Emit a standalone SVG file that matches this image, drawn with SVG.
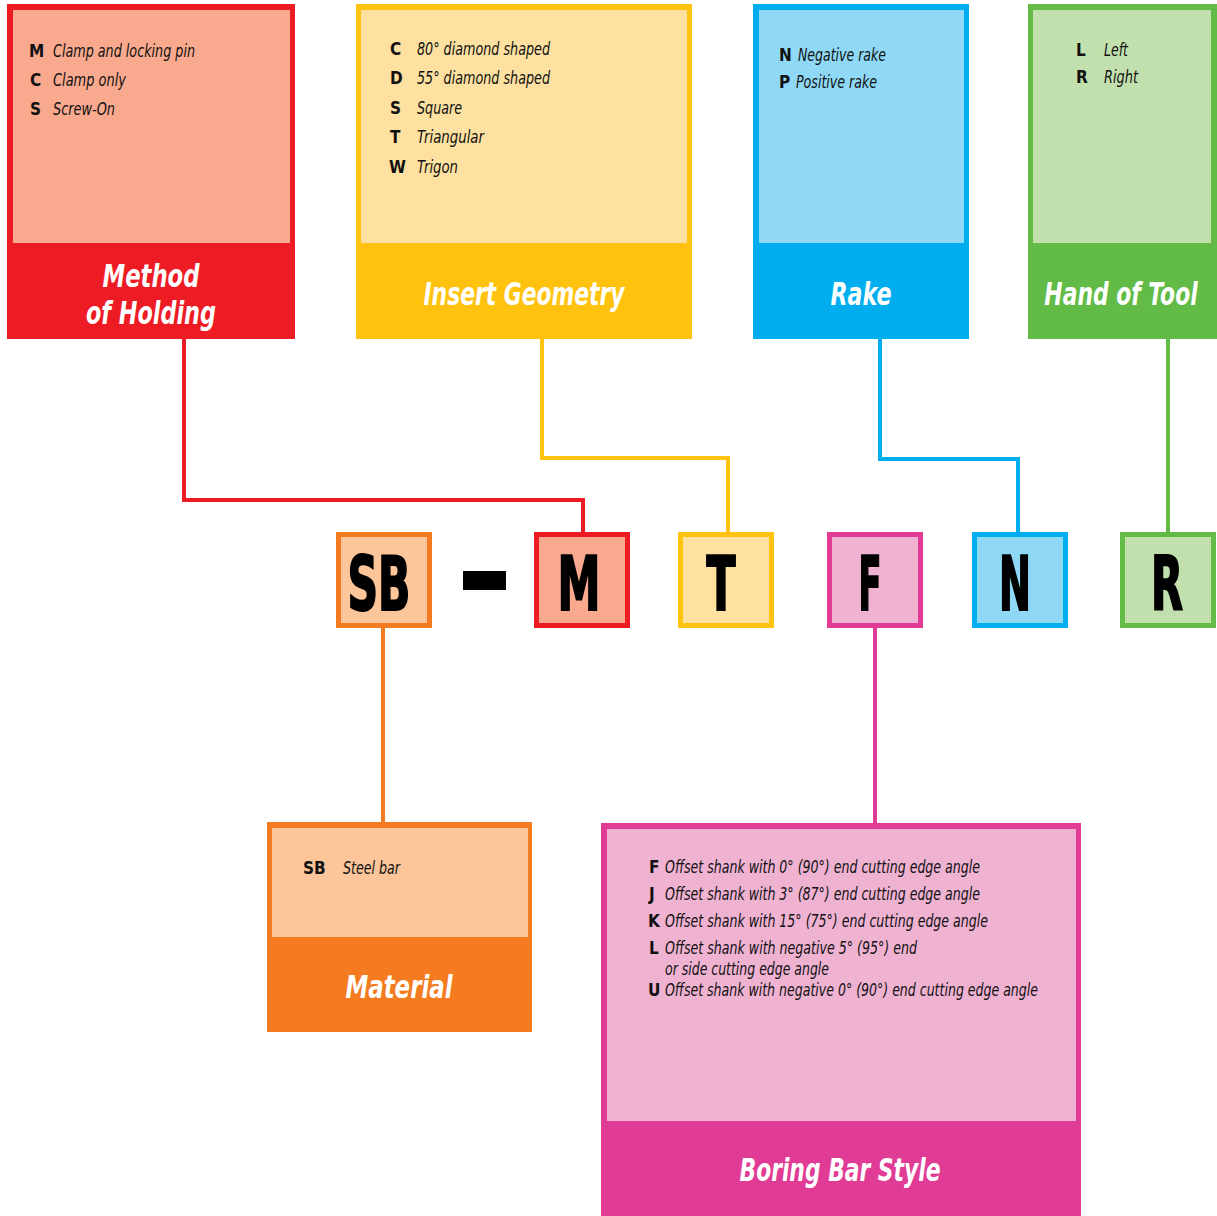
<svg xmlns="http://www.w3.org/2000/svg" width="1217" height="1216" viewBox="0 0 1217 1216">
<style>
text{font-family:"Liberation Sans Narrow","DejaVu Sans Condensed","Liberation Sans",sans-serif;fill:#111}
.k{font-weight:bold;font-size:17px}
.d{font-style:italic;font-size:18px}
.t{font-weight:bold;font-style:italic;font-size:32px;fill:#fff;text-anchor:middle}
.big{font-weight:bold;font-size:74px;text-anchor:middle;fill:#000;stroke:#000;stroke-width:2}
.c{fill:none;stroke-width:4}
</style>
<rect width="1217" height="1216" fill="#fff"/>
<g id="connectors">
<polyline class="c" stroke="#ED1C24" points="184,339 184,500 583,500 583,532"/>
<polyline class="c" stroke="#FFC20E" points="542,339 542,458 728,458 728,532"/>
<polyline class="c" stroke="#00AEEF" points="880,339 880,459 1018,459 1018,532"/>
<polyline class="c" stroke="#62BB46" points="1168,339 1168,532"/>
<polyline class="c" stroke="#F47B20" points="383,628 383,823"/>
<polyline class="c" stroke="#E03C95" points="875,628 875,823"/>
</g>
<g id="method-of-holding">
<rect x="7" y="4" width="288" height="335" fill="#ED1C24"/>
<rect x="13" y="10" width="277" height="233" fill="#F9A98E"/>
<text class="k" x="29" y="57">M</text><text class="d" x="53" y="57" textLength="142" lengthAdjust="spacingAndGlyphs">Clamp and locking pin</text>
<text class="k" x="30" y="86">C</text><text class="d" x="53" y="86" textLength="73" lengthAdjust="spacingAndGlyphs">Clamp only</text>
<text class="k" x="30" y="115">S</text><text class="d" x="53" y="115" textLength="62" lengthAdjust="spacingAndGlyphs">Screw-On</text>
<text class="t" x="151" y="287" textLength="97" lengthAdjust="spacingAndGlyphs">Method</text>
<text class="t" x="151" y="324" textLength="130" lengthAdjust="spacingAndGlyphs">of Holding</text>
</g>
<g id="insert-geometry">
<rect x="356" y="4" width="336" height="335" fill="#FFC20E"/>
<rect x="361" y="10" width="326" height="233" fill="#FEE1A0"/>
<text class="k" x="390" y="55">C</text><text class="d" x="417" y="55" textLength="133" lengthAdjust="spacingAndGlyphs">80° diamond shaped</text>
<text class="k" x="390" y="84">D</text><text class="d" x="417" y="84" textLength="133" lengthAdjust="spacingAndGlyphs">55° diamond shaped</text>
<text class="k" x="390" y="114">S</text><text class="d" x="417" y="114" textLength="45" lengthAdjust="spacingAndGlyphs">Square</text>
<text class="k" x="390" y="143">T</text><text class="d" x="417" y="143" textLength="67" lengthAdjust="spacingAndGlyphs">Triangular</text>
<text class="k" x="389" y="173">W</text><text class="d" x="417" y="173" textLength="41" lengthAdjust="spacingAndGlyphs">Trigon</text>
<text class="t" x="524" y="305" textLength="201" lengthAdjust="spacingAndGlyphs">Insert Geometry</text>
</g>
<g id="rake">
<rect x="753" y="4" width="216" height="335" fill="#00AEEF"/>
<rect x="759" y="10" width="205" height="233" fill="#8FD9F6"/>
<text class="k" x="779" y="61">N</text><text class="d" x="798" y="61" textLength="88" lengthAdjust="spacingAndGlyphs">Negative rake</text>
<text class="k" x="779" y="88">P</text><text class="d" x="796" y="88" textLength="81" lengthAdjust="spacingAndGlyphs">Positive rake</text>
<text class="t" x="861" y="305" textLength="61" lengthAdjust="spacingAndGlyphs">Rake</text>
</g>
<g id="hand-of-tool">
<rect x="1028" y="4" width="189" height="335" fill="#62BB46"/>
<rect x="1033" y="10" width="178" height="233" fill="#C1E0AD"/>
<text class="k" x="1076" y="56">L</text><text class="d" x="1104" y="56" textLength="24" lengthAdjust="spacingAndGlyphs">Left</text>
<text class="k" x="1076" y="83">R</text><text class="d" x="1104" y="83" textLength="34" lengthAdjust="spacingAndGlyphs">Right</text>
<text class="t" transform="translate(1121,305) scale(0.7,1)" x="0" y="0" textLength="219" lengthAdjust="spacingAndGlyphs">Hand of Tool</text>
</g>
<g id="code-SB">
<rect x="338.5" y="534.5" width="91" height="91" fill="#FDC59A" stroke="#F47B20" stroke-width="5"/>
<text class="big" x="379" y="610" textLength="63" lengthAdjust="spacingAndGlyphs">SB</text>
</g>
<g id="dash"><rect x="463" y="571" width="43" height="19" fill="#000"/></g>
<g id="code-M">
<rect x="536.5" y="534.5" width="91" height="91" fill="#F9A98E" stroke="#ED1C24" stroke-width="5"/>
<text class="big" x="579" y="610" textLength="43" lengthAdjust="spacingAndGlyphs">M</text>
</g>
<g id="code-T">
<rect x="680.5" y="534.5" width="91" height="91" fill="#FEE1A0" stroke="#FFC20E" stroke-width="5"/>
<text class="big" x="721" y="610" textLength="29" lengthAdjust="spacingAndGlyphs">T</text>
</g>
<g id="code-F">
<rect x="829.5" y="534.5" width="91" height="91" fill="#F0B2D1" stroke="#E03C95" stroke-width="5"/>
<text class="big" x="870" y="610" textLength="23" lengthAdjust="spacingAndGlyphs">F</text>
</g>
<g id="code-N">
<rect x="974.5" y="534.5" width="91" height="91" fill="#8FD9F6" stroke="#00AEEF" stroke-width="5"/>
<text class="big" x="1015" y="610" textLength="32" lengthAdjust="spacingAndGlyphs">N</text>
</g>
<g id="code-R">
<rect x="1122.5" y="534.5" width="91" height="91" fill="#C1E0AD" stroke="#62BB46" stroke-width="5"/>
<text class="big" x="1167" y="610" textLength="32" lengthAdjust="spacingAndGlyphs">R</text>
</g>
<g id="material">
<rect x="267" y="822" width="265" height="210" fill="#F47B20"/>
<rect x="272" y="828" width="256" height="109" fill="#FDC59A"/>
<text class="k" x="303" y="874">SB</text><text class="d" x="343" y="874" textLength="57" lengthAdjust="spacingAndGlyphs">Steel bar</text>
<text class="t" x="399" y="998" textLength="107" lengthAdjust="spacingAndGlyphs">Material</text>
</g>
<g id="boring-bar-style">
<rect x="601" y="823" width="480" height="393" fill="#E03C95"/>
<rect x="607" y="829" width="469" height="292" fill="#F0B2D1"/>
<text class="k" x="649" y="873">F</text><text class="d" x="665" y="873" textLength="315" lengthAdjust="spacingAndGlyphs">Offset shank with 0° (90°) end cutting edge angle</text>
<text class="k" x="649" y="900">J</text><text class="d" x="665" y="900" textLength="315" lengthAdjust="spacingAndGlyphs">Offset shank with 3° (87°) end cutting edge angle</text>
<text class="k" x="648" y="927">K</text><text class="d" x="665" y="927" textLength="323" lengthAdjust="spacingAndGlyphs">Offset shank with 15° (75°) end cutting edge angle</text>
<text class="k" x="649" y="954">L</text><text class="d" x="665" y="954" textLength="252" lengthAdjust="spacingAndGlyphs">Offset shank with negative 5° (95°) end</text>
<text class="d" x="665" y="975" textLength="164" lengthAdjust="spacingAndGlyphs">or side cutting edge angle</text>
<text class="k" x="648" y="996">U</text><text class="d" x="665" y="996" textLength="373" lengthAdjust="spacingAndGlyphs">Offset shank with negative 0° (90°) end cutting edge angle</text>
<text class="t" x="840" y="1181" textLength="201" lengthAdjust="spacingAndGlyphs">Boring Bar Style</text>
</g>
</svg>
